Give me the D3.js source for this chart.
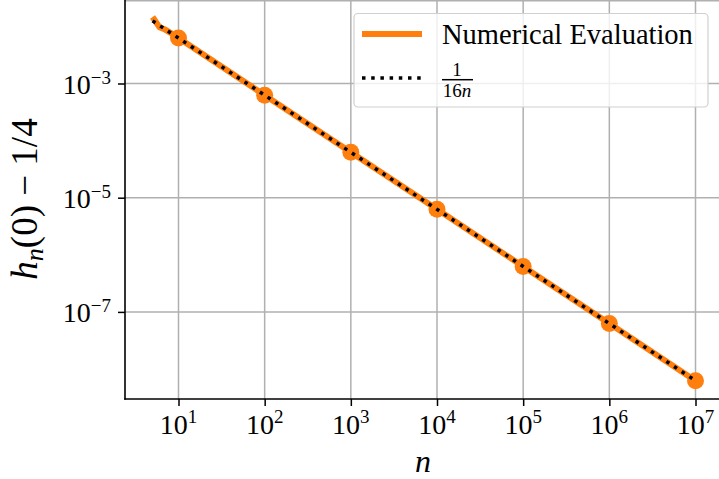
<!DOCTYPE html>
<html><head><meta charset="utf-8">
<script src="https://cdn.jsdelivr.net/npm/d3@7"></script>
<style>
html,body{margin:0;padding:0;background:#fff;}
svg{display:block;}
</style></head>
<body>
<svg id="chart" width="719" height="479"></svg>
<script>
// ---- data ----
const numN = [5, 6, 7, 8, 10, 100, 1e3, 1e4, 1e5, 1e6, 1e7];
const numH = [0.0146, 0.0097, 0.0088, 0.0078, 0.00625, 6.25e-4, 6.25e-5, 6.25e-6, 6.25e-7, 6.25e-8, 6.25e-9];
const markerN = [10, 100, 1e3, 1e4, 1e5, 1e6, 1e7];
const markerH = [6.25e-3, 6.25e-4, 6.25e-5, 6.25e-6, 6.25e-7, 6.25e-8, 6.25e-9];
const refN = [5, 1e7];
const refH = [0.0125, 6.25e-9];
const xTicks = [1e1, 1e2, 1e3, 1e4, 1e5, 1e6, 1e7];
const xTickExp = ["1", "2", "3", "4", "5", "6", "7"];
const yTicks = [1e-3, 1e-5, 1e-7];
const yTickExp = ["−3", "−5", "−7"];
const legendLabels = ["Numerical Evaluation", "1", "16n"];

// pick an installed serif font
function pickFont(cands){
  const c = document.createElement("canvas").getContext("2d");
  const s = "Numerical Evaluation 0123456789 hn";
  const base = {};
  ["monospace","sans-serif"].forEach(b=>{ c.font = "40px " + b; base[b] = c.measureText(s).width; });
  for (const f of cands){
    let ok = false;
    ["monospace","sans-serif"].forEach(b=>{
      c.font = `40px "${f}", ${b}`;
      if (Math.abs(c.measureText(s).width - base[b]) > 0.5) ok = true;
    });
    if (ok) return `"${f}", serif`;
  }
  return "serif";
}
const FONT = pickFont(["Liberation Serif","Tinos","Times New Roman","Times","DejaVu Serif","Noto Serif","Nimbus Roman","FreeSerif","Georgia"]);

const svg = d3.select("#chart");
const L = 125, R = 719, T = 0, B = 399;
const x = d3.scaleLog().domain([10, 1e7]).range([178.5, 695.5]);
const y = d3.scaleLog().domain([1e-3, 1e-7]).range([83.5, 311.9]);

svg.append("defs").append("clipPath").attr("id","clip")
  .append("rect").attr("x",L).attr("y",T).attr("width",R-L).attr("height",B-T);

// grid
const grid = svg.append("g");
grid.selectAll(".gx").data(xTicks).enter().append("line")
  .attr("x1",d=>x(d)).attr("x2",d=>x(d)).attr("y1",T).attr("y2",B)
  .attr("stroke","#b0b0b0").attr("stroke-width",1.5);
grid.selectAll(".gy").data(yTicks).enter().append("line")
  .attr("x1",L).attr("x2",R).attr("y1",d=>y(d)).attr("y2",d=>y(d))
  .attr("stroke","#b0b0b0").attr("stroke-width",1.5);
grid.append("line").attr("x1",L).attr("x2",R).attr("y1",0.75).attr("y2",0.75)
  .attr("stroke","#b0b0b0").attr("stroke-width",1.5);

const plot = svg.append("g").attr("clip-path","url(#clip)");
const line = d3.line().x(d=>x(d[0])).y(d=>y(d[1]));
plot.append("path").datum(numN.map((n,i)=>[n,numH[i]]))
  .attr("d",line).attr("fill","none").attr("stroke","#ff7f0e")
  .attr("stroke-width",6).attr("stroke-linejoin","round");
plot.selectAll("circle").data(markerN.map((n,i)=>[n,markerH[i]])).enter().append("circle")
  .attr("cx",d=>x(d[0])).attr("cy",d=>y(d[1])).attr("r",8.5).attr("fill","#ff7f0e");
plot.append("path").datum(refN.map((n,i)=>[n,refH[i]]))
  .attr("d",line).attr("fill","none").attr("stroke","#000")
  .attr("stroke-width",3.5).attr("stroke-dasharray","3.5,5.7");

// axes
const xAxis = svg.append("g").attr("transform",`translate(0,${B})`)
  .call(d3.axisBottom(x).tickValues(xTicks).tickFormat("").tickSizeOuter(0).tickSize(7));
const yAxis = svg.append("g").attr("transform",`translate(${L},0)`)
  .call(d3.axisLeft(y).tickValues(yTicks).tickFormat("").tickSizeOuter(0).tickSize(7));
[xAxis,yAxis].forEach(a=>{
  a.select(".domain").remove();
  a.selectAll(".tick line").attr("stroke","#000").attr("stroke-width",1.5);
});
svg.append("line").attr("x1",L).attr("x2",L).attr("y1",T).attr("y2",B+0.75).attr("stroke","#000").attr("stroke-width",1.6);
svg.append("line").attr("x1",L-0.75).attr("x2",R).attr("y1",B).attr("y2",B).attr("stroke","#000").attr("stroke-width",1.6);

const txt = (sel) => sel.append("text").style("font-family", FONT).attr("fill","#000");

// tick labels
xTicks.forEach((v,i)=>{
  const t = txt(svg).attr("x",x(v)).attr("y",434)
    .attr("text-anchor","middle").attr("font-size",28);
  t.append("tspan").text("10");
  t.append("tspan").attr("dy",-11).attr("font-size",19).text(xTickExp[i]);
});
yTicks.forEach((v,i)=>{
  const t = txt(svg).attr("x",111).attr("y",y(v)+10.5)
    .attr("text-anchor","end").attr("font-size",28);
  t.append("tspan").text("10");
  t.append("tspan").attr("dy",-10).attr("font-size",19).text(yTickExp[i]);
});

// axis labels
txt(svg).attr("x",423).attr("y",472).attr("text-anchor","middle")
  .attr("font-size",32).attr("font-style","italic").text("n");
const yl = txt(svg).attr("transform","translate(37,199) rotate(-90)")
  .attr("text-anchor","middle").attr("font-size",37);
yl.append("tspan").attr("font-style","italic").text("h");
yl.append("tspan").attr("font-style","italic").attr("font-size",26).attr("dy",6).text("n");
yl.append("tspan").attr("dy",-6).text("(0) − 1/4");

// legend
const lg = svg.append("g");
lg.append("rect").attr("x",354).attr("y",13.5).attr("width",354).attr("height",93.5)
  .attr("rx",4).attr("fill","#fff").attr("fill-opacity",0.8)
  .attr("stroke","#d0d0d0").attr("stroke-width",1.2);
lg.append("line").attr("x1",362).attr("x2",422).attr("y1",34).attr("y2",34)
  .attr("stroke","#ff7f0e").attr("stroke-width",6);
txt(lg).attr("x",442).attr("y",44).attr("font-size",28.5).text(legendLabels[0]);
lg.append("line").attr("x1",362).attr("x2",422).attr("y1",78).attr("y2",78)
  .attr("stroke","#000").attr("stroke-width",3.5).attr("stroke-dasharray","3.5,5.7");
txt(lg).attr("x",457).attr("y",76).attr("text-anchor","middle").attr("font-size",19).text(legendLabels[1]);
lg.append("line").attr("x1",442).attr("x2",473).attr("y1",79.7).attr("y2",79.7).attr("stroke","#000").attr("stroke-width",1.5);
const fr = txt(lg).attr("x",457).attr("y",97).attr("text-anchor","middle").attr("font-size",19);
fr.append("tspan").text("16");
fr.append("tspan").attr("font-style","italic").text("n");
</script>
</body></html>
